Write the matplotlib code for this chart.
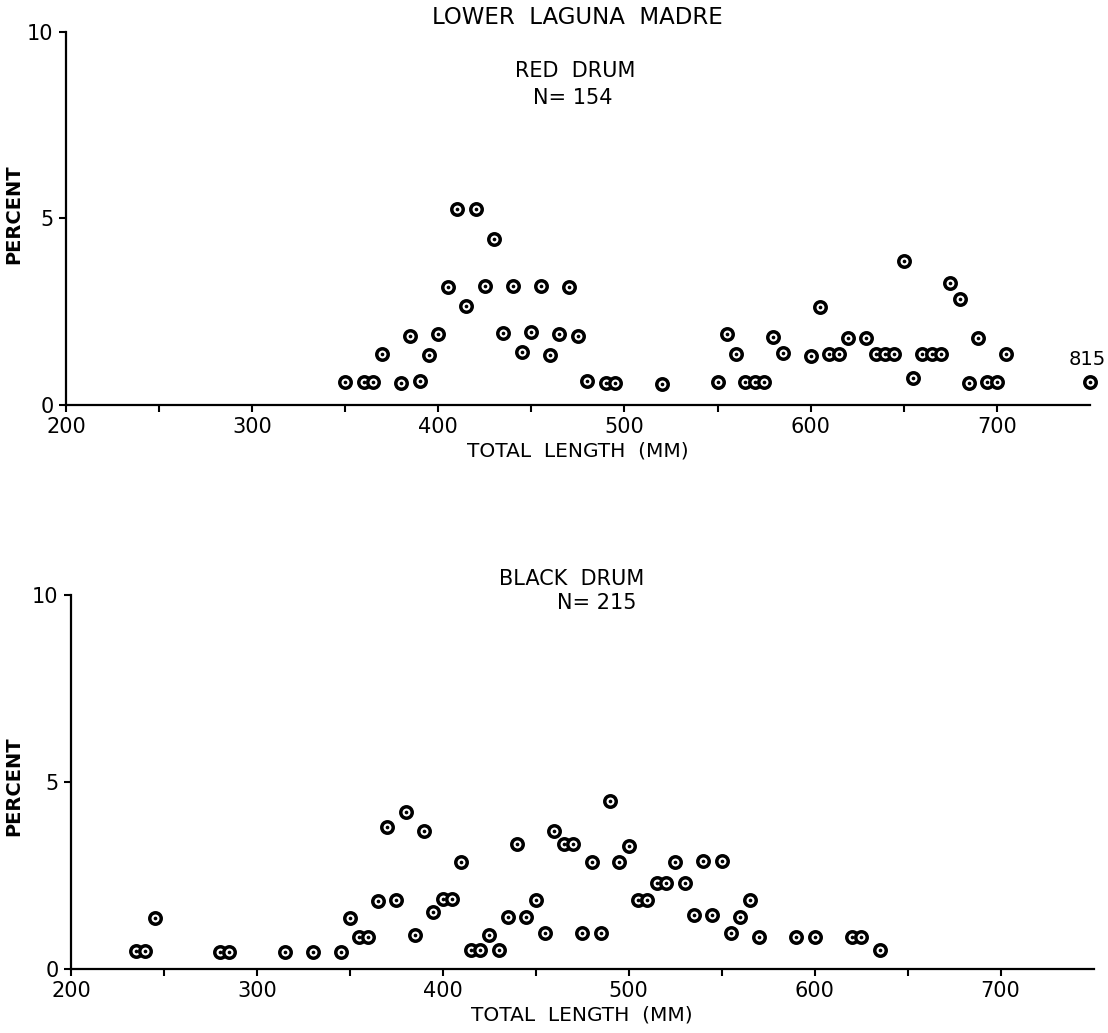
import numpy as np
import matplotlib.pyplot as plt

plt.rcParams['font.family'] = ['DejaVu Sans']

# red drum, percent of catch by total length (mm)
red_len = [350, 360, 365, 370, 380, 385, 390, 395, 400, 405, 410, 415, 420,
           425, 430, 435, 440, 445, 450, 455, 460, 465, 470, 475, 480, 490,
           495, 520, 550, 555, 560, 565, 570, 575, 580, 585, 600, 605, 610,
           615, 620, 630, 635, 640, 645, 650, 655, 660, 665, 670, 675, 680,
           685, 690, 695, 700, 705, 815]
red_pct = [0.62, 0.62, 0.62, 1.36, 0.6, 1.85, 0.65, 1.35, 1.9, 3.15, 5.25,
           2.65, 5.25, 3.2, 4.45, 1.92, 3.2, 1.42, 1.95, 3.2, 1.35, 1.9, 3.15,
           1.85, 0.65, 0.6, 0.6, 0.56, 0.62, 1.9, 1.36, 0.62, 0.62, 0.62, 1.82,
           1.4, 1.32, 2.62, 1.36, 1.36, 1.8, 1.8, 1.36, 1.36, 1.36, 3.85, 0.72,
           1.36, 1.36, 1.36, 3.28, 2.85, 0.6, 1.8, 0.62, 0.62, 1.36, 0.62]

# black drum
black_len = [235, 240, 245, 280, 285, 315, 330, 345, 350, 355, 360, 365, 370,
             375, 380, 385, 390, 395, 400, 405, 410, 415, 420, 425, 430, 435,
             440, 445, 450, 455, 460, 465, 470, 475, 480, 485, 490, 495, 500,
             505, 510, 515, 520, 525, 530, 535, 540, 545, 550, 555, 560, 565,
             570, 590, 600, 620, 625, 635]
black_pct = [0.47, 0.47, 1.37, 0.46, 0.46, 0.46, 0.46, 0.46, 1.36, 0.86, 0.86,
             1.82, 3.8, 1.85, 4.2, 0.92, 3.7, 1.52, 1.86, 1.86, 2.85, 0.52,
             0.52, 0.9, 0.52, 1.4, 3.35, 1.4, 1.85, 0.95, 3.7, 3.35, 3.35,
             0.95, 2.85, 0.95, 4.5, 2.85, 3.3, 1.85, 1.85, 2.3, 2.3, 2.85, 2.3,
             1.45, 2.9, 1.45, 2.9, 0.95, 1.4, 1.85, 0.85, 0.85, 0.85, 0.85,
             0.85, 0.5]

x_major = [200, 300, 400, 500, 600, 700]
x_minor = [250, 350, 450, 550, 650]
y_ticks = [0, 5, 10]
x_max = 750

fig = plt.figure(figsize=(11.08, 10.33), dpi=100)
ax1 = fig.add_axes([0.0596, 0.608, 0.924, 0.361])
ax2 = fig.add_axes([0.064, 0.062, 0.923, 0.362])


def ring_points(ax, x, y):
    # lengths past the axis end sit on the edge
    x = np.minimum(np.asarray(x, float), x_max)
    ax.scatter(x, y, s=68, facecolor='white', edgecolor='black',
               linewidth=2.5, zorder=3, clip_on=False)
    ax.scatter(x, y, s=7, color='black', linewidth=0, zorder=4, clip_on=False)


def style(ax, ylab_xy):
    ax.set_xlim(200, x_max)
    ax.set_ylim(0, 10)
    for s in ('top', 'right'):
        ax.spines[s].set_visible(False)
    for s in ('left', 'bottom'):
        ax.spines[s].set_linewidth(1.6)
    ax.set_xticks(x_major)
    ax.set_xticks(x_minor, minor=True)
    ax.set_yticks(y_ticks)
    ax.tick_params(axis='both', which='both', width=1.5, length=5,
                   labelsize=15, pad=4)
    ax.set_xlabel('TOTAL  LENGTH  (MM)', fontsize=14.5, labelpad=3)
    ax.set_ylabel('PERCENT', fontsize=14, fontweight='bold')
    ax.yaxis.set_label_coords(*ylab_xy)


ring_points(ax1, red_len, red_pct)
style(ax1, (-0.042, 0.512))
ax1.annotate(str(red_len[-1]), (x_max, red_pct[-1]), xytext=(-2, 16),
             textcoords='offset points', ha='center', va='center',
             fontsize=14, annotation_clip=False)
ax1.text(0.497, 0.895, 'RED  DRUM', transform=ax1.transAxes, ha='center',
         va='center', fontsize=15)
ax1.text(0.495, 0.823, 'N= 154', transform=ax1.transAxes, ha='center',
         va='center', fontsize=15)

ring_points(ax2, black_len, black_pct)
style(ax2, (-0.047, 0.49))
ax2.text(0.49, 1.043, 'BLACK  DRUM', transform=ax2.transAxes, ha='center',
         va='center', fontsize=15)
ax2.text(0.514, 0.979, 'N= 215', transform=ax2.transAxes, ha='center',
         va='center', fontsize=15)

fig.text(0.521, 0.983, 'LOWER  LAGUNA  MADRE', ha='center', va='center',
         fontsize=16.5)

plt.savefig('out.png', dpi=100)
